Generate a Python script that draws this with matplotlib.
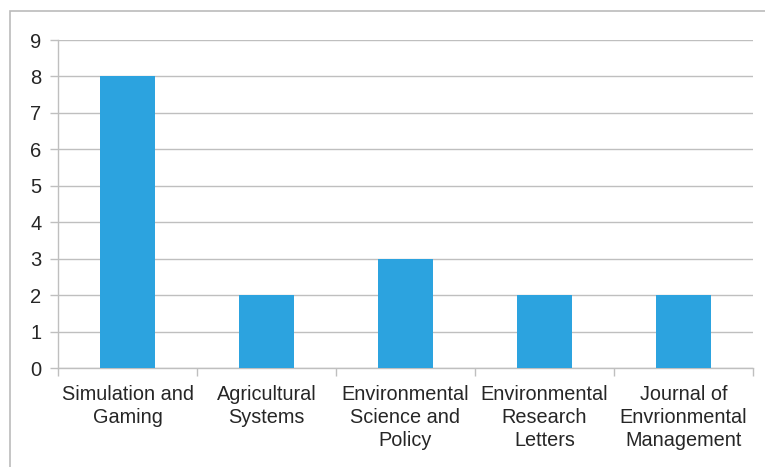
import matplotlib
matplotlib.use("Agg")
import matplotlib.pyplot as plt
from matplotlib.patches import Rectangle

categories = ["Simulation and\nGaming", "Agricultural\nSystems",
              "Environmental\nScience and\nPolicy", "Environmental\nResearch\nLetters",
              "Journal of\nEnvrionmental\nManagement"]
values = [8, 2, 3, 2, 2]
yticks = [0, 1, 2, 3, 4, 5, 6, 7, 8, 9]

plt.rcParams['font.family'] = ['Liberation Sans', 'DejaVu Sans']
W, H = 765, 467
fig = plt.figure(figsize=(W/100, H/100), dpi=100)
ax = fig.add_axes([58/W, 1-368/H, (753-58)/W, (368-40)/H])

txt = '#262626'
grid = '#BFBFBF'
x = list(range(len(categories)))
ax.bar(x, values, width=0.40, color='#2CA3DF', zorder=3)
ax.set_xlim(-0.5, len(categories)-0.5)
ax.set_ylim(0, 9)
ax.set_yticks(yticks)
ax.set_yticklabels([str(v) for v in yticks], fontsize=14.5, color=txt)
ax.yaxis.grid(True, color=grid, linewidth=1, zorder=0)
ax.set_xticks(x)
ax.set_xticklabels(categories, fontsize=14.3, color=txt, linespacing=1.27)
ax.set_xticks([i - 0.5 for i in range(len(categories)+1)], minor=True)
ax.tick_params(axis='x', which='major', length=0, pad=12)
ax.tick_params(axis='x', which='minor', length=6, color=grid, width=1)
ax.tick_params(axis='y', length=6, color=grid, width=1, pad=6)
for s in ['top', 'right']:
    ax.spines[s].set_visible(False)
for s in ['left', 'bottom']:
    ax.spines[s].set_color(grid)
    ax.spines[s].set_linewidth(1)

fig.patches.append(Rectangle((9.5/W, -0.1), 1.0, 1 - 10.5/H + 0.1, transform=fig.transFigure,
                             fill=False, edgecolor='#BBBBBB', linewidth=1.2))
fig.savefig("out.png", dpi=100)
